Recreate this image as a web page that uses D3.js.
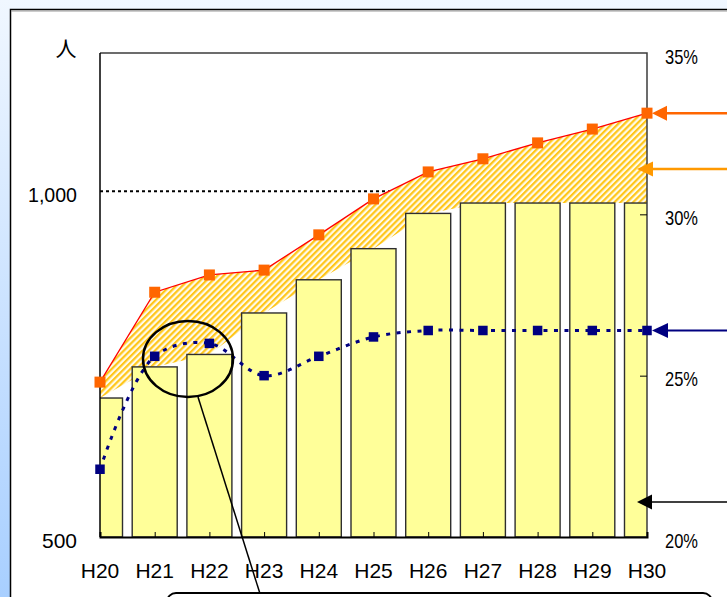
<!DOCTYPE html>
<html>
<head>
<meta charset="utf-8">
<script src="https://cdn.jsdelivr.net/npm/d3@7/dist/d3.min.js"></script>
<style>
  html, body { margin: 0; padding: 0; background: #fff; }
  svg { display: block; }
  text { font-family: "Liberation Sans", Arial, sans-serif; fill: #000; }
</style>
</head>
<body>
<svg id="chart" width="727" height="597"></svg>
<script>
// ---- data ----
const categories = ["H20","H21","H22","H23","H24","H25","H26","H27","H28","H29","H30"];
const barValues   = [701, 746, 764, 824, 872, 917, 968, 983, 983, 983, 983];     // 人 (bars)
const totalValues = [724, 854, 879, 886, 937, 989, 1028, 1047, 1070, 1090, 1113]; // 人 (upper line)
const pctValues   = [22.1, 25.6, 26.0, 25.0, 25.6, 26.2, 26.4, 26.4, 26.4, 26.4, 26.4]; // % (right axis)
const leftTicks  = [500, 1000];
const leftTickLabels = ["500", "1,000"];
const rightTicks = [20, 25, 30, 35];
const rightTickLabels = ["20%", "25%", "30%", "35%"];

// ---- layout ----
const W = 727, H = 597;
const plot = { left: 100, right: 647, top: 53, bottom: 537 };

const svg = d3.select("#chart");
const defs = svg.append("defs");

// background gradient
const bg = defs.append("linearGradient").attr("id", "bgGrad")
  .attr("x1", 0).attr("y1", 0).attr("x2", 0).attr("y2", 1);
bg.append("stop").attr("offset", "0%").attr("stop-color", "#F0F7FF");
bg.append("stop").attr("offset", "100%").attr("stop-color", "#A8CFFF");

// hatch pattern
const pat = defs.append("pattern").attr("id", "hatch")
  .attr("patternUnits", "userSpaceOnUse").attr("width", 4.4).attr("height", 4.4)
  .attr("patternTransform", "rotate(45)");
pat.append("rect").attr("width", 4.4).attr("height", 4.4).attr("fill", "#FFFBEA");
pat.append("rect").attr("width", 2.2).attr("height", 4.4).attr("fill", "#FFC61A");

defs.append("clipPath").attr("id", "plotClip")
  .append("rect")
  .attr("x", plot.left).attr("y", plot.top)
  .attr("width", plot.right - plot.left).attr("height", plot.bottom - plot.top);

// background + panel
svg.append("rect").attr("width", W).attr("height", H).attr("fill", "url(#bgGrad)");
svg.append("rect").attr("x", 10.5).attr("y", 9.5).attr("width", W + 20).attr("height", H + 20)
  .attr("fill", "#fff").attr("stroke", "#000").attr("stroke-width", 1.5);
svg.append("line").attr("x1", 11).attr("x2", W).attr("y1", 11).attr("y2", 11)
  .attr("stroke", "#9a9a9a").attr("stroke-width", 1);

// ---- scales ----
const x = d3.scalePoint().domain(categories).range([plot.left, plot.right]);
const yL = d3.scaleLinear().domain([500, 1200]).range([plot.bottom, plot.top]);
const yR = d3.scaleLinear().domain([20, 35]).range([plot.bottom, plot.top]);

const g = svg.append("g");

// gridline at 1,000
g.append("line")
  .attr("x1", plot.left).attr("x2", plot.right)
  .attr("y1", yL(1000)).attr("y2", yL(1000))
  .attr("stroke", "#000").attr("stroke-width", 2).attr("stroke-dasharray", "3,3");

// hatched area between bar values and total values
const rows = categories.map((c, i) => ({ c, bar: barValues[i], total: totalValues[i], pct: pctValues[i] }));
const area = d3.area()
  .x(d => x(d.c))
  .y0(d => yL(d.bar))
  .y1(d => yL(d.total));
g.append("path").datum(rows).attr("d", area).attr("fill", "url(#hatch)");

// bars
const bw = 45;
g.append("g").attr("clip-path", "url(#plotClip)")
  .selectAll("rect").data(rows).join("rect")
  .attr("x", d => x(d.c) - bw / 2)
  .attr("y", d => yL(d.bar))
  .attr("width", bw)
  .attr("height", d => plot.bottom - yL(d.bar))
  .attr("fill", "#FFFF99")
  .attr("stroke", "#2e2e2e").attr("stroke-width", 1.4);

// plot frame (top and right)
g.append("path")
  .attr("d", `M${plot.left},${plot.top}H${plot.right}V${plot.bottom}`)
  .attr("fill", "none").attr("stroke", "#3c3c3c").attr("stroke-width", 1.5);

// left axis line
g.append("line").attr("x1", plot.left).attr("x2", plot.left)
  .attr("y1", plot.top).attr("y2", plot.bottom)
  .attr("stroke", "#000").attr("stroke-width", 1.5);

// bottom axis
const xAxis = d3.axisBottom(x).tickSize(-5).tickFormat("");
const xa = g.append("g").attr("transform", `translate(0,${plot.bottom})`).call(xAxis);
xa.select(".domain").attr("stroke", "#000").attr("stroke-width", 2);
xa.selectAll(".tick line").attr("stroke", "#000").attr("stroke-width", 1);

// right axis ticks
const yRAxis = d3.axisRight(yR).tickValues([25, 30]).tickSize(-7).tickFormat("");
const ra = g.append("g").attr("transform", `translate(${plot.right},0)`).call(yRAxis);
ra.select(".domain").remove();
ra.selectAll(".tick line").attr("stroke", "#000").attr("stroke-width", 1);

// blue percentage line (smoothed, dotted)
const pctLine = d3.line().x(d => x(d.c)).y(d => yR(d.pct)).curve(d3.curveCatmullRom.alpha(0.5));
g.append("path").datum(rows).attr("d", pctLine)
  .attr("fill", "none").attr("stroke", "#000080").attr("stroke-width", 3)
  .attr("stroke-dasharray", "4,6.5");
g.selectAll(".pm").data(rows).join("rect").attr("class", "pm")
  .attr("x", d => x(d.c) - 4.75).attr("y", d => yR(d.pct) - 4.75)
  .attr("width", 9.5).attr("height", 9.5).attr("fill", "#000080");

// total line (red) with orange markers
const totLine = d3.line().x(d => x(d.c)).y(d => yL(d.total));
g.append("path").datum(rows).attr("d", totLine)
  .attr("fill", "none").attr("stroke", "#FF0000").attr("stroke-width", 1.3);
g.selectAll(".tm").data(rows).join("rect").attr("class", "tm")
  .attr("x", d => x(d.c) - 5.5).attr("y", d => yL(d.total) - 5.5)
  .attr("width", 11).attr("height", 11).attr("fill", "#FF6600");

// ---- labels ----
g.selectAll(".xl").data(categories).join("text").attr("class", "xl")
  .attr("x", d => x(d)).attr("y", 578)
  .attr("text-anchor", "middle").attr("font-size", 21)
  .text(d => d);

g.selectAll(".ll").data(leftTicks).join("text").attr("class", "ll")
  .attr("x", 77).attr("y", d => yL(d) + 10.5)
  .attr("text-anchor", "end").attr("font-size", 21)
  .attr("textLength", (d, i) => leftTickLabels[i].length > 3 ? 49 : 35)
  .attr("lengthAdjust", "spacingAndGlyphs")
  .text((d, i) => leftTickLabels[i]);

g.selectAll(".rl").data(rightTicks).join("text").attr("class", "rl")
  .attr("x", 665).attr("y", d => yR(d) + 10.5)
  .attr("text-anchor", "start").attr("font-size", 21)
  .attr("textLength", 33).attr("lengthAdjust", "spacingAndGlyphs")
  .text((d, i) => rightTickLabels[i]);

svg.append("text").attr("x", 66).attr("y", 56).attr("text-anchor", "middle")
  .attr("font-size", 21).style("font-family", "'Noto Sans CJK JP', sans-serif")
  .text("人");

// ---- annotations ----
const last = rows[rows.length - 1];
function arrow(tipX, tipY, headLen, half, color, lw) {
  svg.append("line").attr("x1", tipX + headLen - 1).attr("x2", W + 2)
    .attr("y1", tipY).attr("y2", tipY).attr("stroke", color).attr("stroke-width", lw);
  svg.append("path")
    .attr("d", `M${tipX},${tipY}L${tipX + headLen},${tipY - half}L${tipX + headLen},${tipY + half}Z`)
    .attr("fill", color);
}
arrow(652, yL(last.total), 15, 7.5, "#FF6600", 2.5);
arrow(637, 169, 16, 7.5, "#FF9900", 2.5);
arrow(652, yR(last.pct), 16, 7.5, "#000080", 2);
arrow(637, 502, 15, 7.5, "#000000", 1.5);

// ellipse highlight and leader
svg.append("ellipse").attr("cx", 188).attr("cy", 359).attr("rx", 45).attr("ry", 38)
  .attr("fill", "none").attr("stroke", "#000").attr("stroke-width", 2.5);
svg.append("line").attr("x1", 198).attr("y1", 397).attr("x2", 262).attr("y2", 600)
  .attr("stroke", "#000").attr("stroke-width", 1.5);
svg.append("rect").attr("x", 167).attr("y", 593).attr("width", 545).attr("height", 40)
  .attr("rx", 9).attr("fill", "#fff").attr("stroke", "#000").attr("stroke-width", 2);
</script>
</body>
</html>
